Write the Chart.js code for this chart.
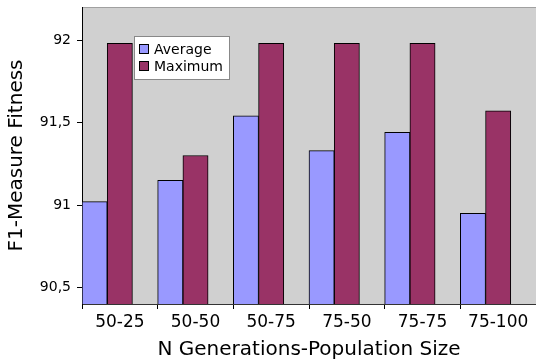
<!DOCTYPE html>
<html lang="en">
<head>
<meta charset="UTF-8">
<title>F1-Measure Fitness</title>
<script src="https://cdn.jsdelivr.net/npm/chart.js"></script>
<style>
    html, body { margin: 0; padding: 0; background: #fff; }
    .wrap { width: 536px; height: 363px; position: relative; }
</style>
</head>
<body>
<div class="wrap"><canvas id="fitnessChart"></canvas></div>
<script>
    const categories = ['50-25', '50-50', '50-75', '75-50', '75-75', '75-100'];
    const averageFitness = [91.02, 91.15, 91.54, 91.33, 91.44, 90.95];
    const maximumFitness = [91.98, 91.30, 91.98, 91.98, 91.98, 91.57];
    const yTicks = [90.5, 91, 91.5, 92];
    // empty third slot so bars sit on the left of each category
    const spacer = categories.map(() => null);

    Chart.defaults.font.family = '"DejaVu Sans", sans-serif';
    Chart.defaults.color = '#000';

    const plotBackground = {
        id: 'plotBackground',
        beforeDraw(chart) {
            const { ctx, chartArea: a } = chart;
            ctx.save();
            ctx.fillStyle = '#d0d0d0';
            ctx.fillRect(a.left, a.top, a.right - a.left, a.bottom - a.top);
            ctx.strokeStyle = '#a0a0a0';
            ctx.lineWidth = 1;
            ctx.beginPath();
            ctx.moveTo(a.left, a.top + 0.5);
            ctx.lineTo(a.right, a.top + 0.5);
            ctx.stroke();
            ctx.restore();
        }
    };

    const boxLegend = {
        id: 'boxLegend',
        afterDraw(chart) {
            const { ctx, chartArea: a } = chart;
            const x = a.left + 52, y = a.top + 29;
            ctx.save();
            ctx.fillStyle = '#fff';
            ctx.fillRect(x, y, 95, 43);
            ctx.strokeStyle = '#888';
            ctx.lineWidth = 1;
            ctx.strokeRect(x + 0.5, y + 0.5, 95, 43);
            ctx.font = '14px "DejaVu Sans", sans-serif';
            ctx.textBaseline = 'middle';
            chart.data.datasets.slice(0, 2).forEach((ds, i) => {
                const cy = y + 13 + i * 17;
                ctx.fillStyle = ds.backgroundColor;
                ctx.fillRect(x + 5, cy - 5, 10, 10);
                ctx.strokeStyle = '#000';
                ctx.strokeRect(x + 5.5, cy - 4.5, 9, 9);
                ctx.fillStyle = '#000';
                ctx.fillText(ds.label, x + 20, cy + 1);
            });
            ctx.restore();
        }
    };

    new Chart(document.getElementById('fitnessChart'), {
        type: 'bar',
        data: {
            labels: categories,
            datasets: [
                { label: 'Average', data: averageFitness, backgroundColor: '#9999ff' },
                { label: 'Maximum', data: maximumFitness, backgroundColor: '#993366' },
                { label: '', data: spacer, backgroundColor: 'transparent' }
            ]
        },
        options: {
            responsive: true,
            maintainAspectRatio: false,
            animation: false,
            layout: { padding: { top: 7, right: 0, left: 0, bottom: 0 } },
            datasets: {
                bar: {
                    categoryPercentage: 1,
                    barPercentage: 1,
                    borderColor: '#000',
                    borderWidth: 1,
                    borderSkipped: false
                }
            },
            plugins: {
                legend: { display: false },
                tooltip: { enabled: false }
            },
            scales: {
                x: {
                    afterFit: s => { s.height = 59; s.paddingLeft = 0; s.paddingRight = 0; },
                    grid: { drawOnChartArea: false, tickLength: 5, offset: true, color: '#000' },
                    border: { color: '#333' },
                    ticks: { padding: 3, font: { size: 17 } },
                    title: {
                        display: true,
                        text: 'N Generations-Population Size',
                        font: { size: 20 },
                        padding: { top: 0, bottom: 1 }
                    }
                },
                y: {
                    min: 90.4,
                    max: 92.2,
                    afterBuildTicks: s => { s.ticks = yTicks.map(v => ({ value: v })); },
                    afterFit: s => { s.width = 82; s.paddingTop = 0; s.paddingBottom = 0; },
                    grid: { drawOnChartArea: false, tickLength: 5, color: '#000' },
                    border: { color: '#000' },
                    ticks: {
                        padding: 6,
                        font: { size: 14 },
                        callback: v => String(v).replace('.', ',')
                    },
                    title: {
                        display: true,
                        text: 'F1-Measure Fitness',
                        font: { size: 20 },
                        padding: { top: 5, bottom: 0 }
                    }
                }
            }
        },
        plugins: [plotBackground, boxLegend]
    });
</script>
</body>
</html>
